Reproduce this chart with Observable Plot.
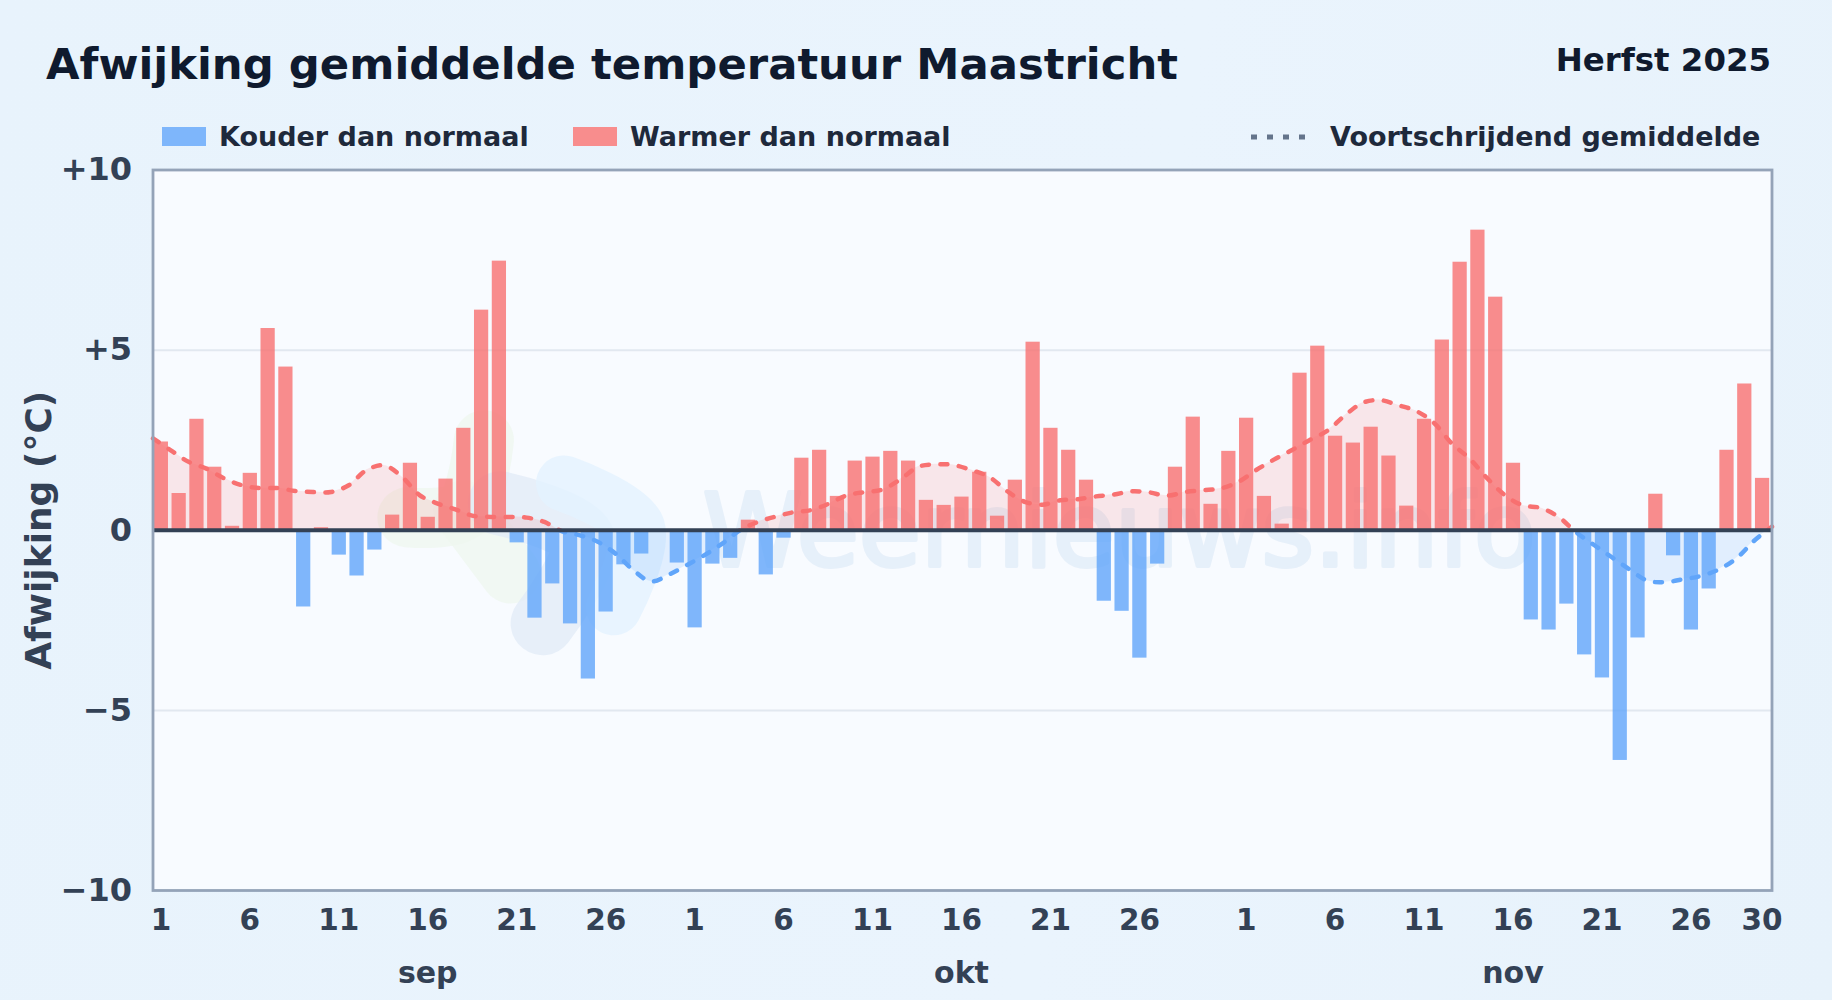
<!DOCTYPE html>
<html lang="nl">
<head>
<meta charset="utf-8">
<title>Afwijking gemiddelde temperatuur Maastricht</title>
<script src="https://cdn.jsdelivr.net/npm/d3@7"></script>
<script src="https://cdn.jsdelivr.net/npm/@observablehq/plot@0.6"></script>
<style>
  html, body { margin: 0; padding: 0; }
  body { width: 1832px; height: 1000px; overflow: hidden; background: linear-gradient(100deg, #e8f3fc 0%, #eaf4fd 60%, #e7f2fb 100%); font-family: "DejaVu Sans", sans-serif; font-weight: 700; }
  #header { position: relative; width: 1832px; height: 140px; }
  #header > * { position: absolute; white-space: nowrap; }
  #title { left: 46px; top: 39px; font-size: 43.35px; line-height: 50px; color: #0f1a2e; }
  #period { right: 61px; top: 42px; font-size: 32.4px; line-height: 36px; color: #0f1a2e; }
  .swatch { top: 127px; width: 44px; height: 19px; }
  .leg { top: 121px; font-size: 27px; line-height: 32px; color: #1e293b; }
  #plot { display: block; height: 860px; }
  #plot svg { display: block; background: transparent; }
</style>
</head>
<body>
<div id="header">
  <div id="title">Afwijking gemiddelde temperatuur Maastricht</div>
  <div id="period">Herfst 2025</div>
  <div class="swatch" style="left:162px;background:#7eb6fb"></div>
  <div class="leg" style="left:219px">Kouder dan normaal</div>
  <div class="swatch" style="left:573px;background:#f88d8d"></div>
  <div class="leg" style="left:630px">Warmer dan normaal</div>
  <svg style="left:1250px;top:129px" width="60" height="16"><line x1="1" x2="58" y1="8" y2="8" stroke="#64748b" stroke-width="5" stroke-dasharray="6 10"/></svg>
  <div class="leg" style="left:1330px">Voortschrijdend gemiddelde</div>
</div>
<div id="plot"></div>
<script>
// Deviation per day (°C)
const sepValues = [2.45, 1.02, 3.08, 1.75, 0.11, 1.58, 5.6, 4.53, -2.13, 0.07, -0.69, -1.27, -0.55, 0.42, 1.86, 0.36, 1.42, 2.83, 6.11, 7.47, -0.35, -2.44, -1.49, -2.6, -4.13, -2.27, -0.96, -0.66, 0, -0.91];
const oktValues = [-2.71, -0.94, -0.78, 0.28, -1.24, -0.22, 2.0, 2.22, 0.94, 1.92, 2.03, 2.19, 1.92, 0.83, 0.69, 0.92, 1.61, 0.39, 1.39, 5.22, 2.83, 2.22, 1.39, -1.97, -2.25, -3.55, -0.94, 1.75, 3.14, 0.72, 2.19];
const novValues = [3.11, 0.94, 0.17, 4.36, 5.11, 2.61, 2.42, 2.86, 2.06, 0.67, 3.08, 5.28, 7.44, 8.33, 6.47, 1.86, -2.49, -2.77, -2.05, -3.46, -4.10, -6.39, -2.99, 1.0, -0.71, -2.77, -1.63, 2.22, 4.06, 1.44];

// Moving average, read at each day boundary across the frame
const movingAverage = [2.55, 2.22, 1.9, 1.71, 1.44, 1.25, 1.17, 1.17, 1.09, 1.06, 1.06, 1.25, 1.67, 1.8, 1.48, 0.97, 0.74, 0.58, 0.4, 0.37, 0.37, 0.35, 0.23, -0.03, -0.14, -0.32, -0.65, -1.11, -1.42, -1.23, -0.97, -0.69, -0.37, 0.0, 0.23, 0.38, 0.5, 0.56, 0.74, 0.97, 1.06, 1.13, 1.41, 1.76, 1.83, 1.81, 1.67, 1.48, 1.09, 0.79, 0.71, 0.83, 0.86, 0.94, 0.99, 1.08, 1.05, 0.96, 1.06, 1.11, 1.16, 1.34, 1.67, 1.96, 2.22, 2.5, 2.76, 3.19, 3.54, 3.61, 3.47, 3.31, 2.98, 2.41, 1.99, 1.44, 0.97, 0.69, 0.62, 0.37, -0.06, -0.41, -0.75, -1.09, -1.40, -1.44, -1.36, -1.27, -1.09, -0.78, -0.29, 0.1];

const tickDays = [1, 6, 11, 16, 21, 26];
const monthNames = ["sep", "okt", "nov"];
const monthStarts = [0, 30, 61];
const yTicks = [-10, -5, 0, 5, 10];
const gridValues = [-5, 5];
const dayCount = 91;

// Watermark
const watermarkText = "Weernieuws.info";
const logoGreen = [[18.6, 2.5, "a"], [17.45, 0.55, "a"], [14.3, 0.36, "a"], [17.45, 0.55, "b"], [20.1, -1.2, "b"]];
const logoGrey = [[19.5, 0.75, "a"], [24.2, -0.28, "a"], [21.9, -2.58, "a"]];
const logoLight = [[23.1, 1.3, "a"], [27.2, 0.08, "a"], [25.9, -2.14, "a"]];

const values = [...sepValues, ...oktValues, ...novValues];
const bars = values.map((v, i) => ({start: i + 0.07, end: i + 0.87, v}));
const ma = movingAverage.map((v, k) => ({k, v}));
const axisTicks = [...monthStarts.flatMap(s => tickDays.map(d => s + d - 0.5)), dayCount - 0.5];
const dayLabel = t => {
  const i = Math.floor(t);
  const s = monthStarts.filter(m => m <= i).pop();
  return String(i - s + 1);
};
const monthTicks = monthStarts.map(s => s + 15.5);

const clipped = id => function (index, scales, vals, dims, ctx, next) {
  const g = next(index, scales, vals, dims, ctx);
  g.setAttribute("clip-path", `url(#${id})`);
  return g;
};
const blob = (pts, stroke, w, op) => Plot.line(pts, {x: d => d[0], y: d => d[1], z: d => d[2], stroke, strokeWidth: w, strokeOpacity: op, strokeLinecap: "round", strokeLinejoin: "round", curve: "catmull-rom"});

const axisColor = "#334155";
const chart = Plot.plot({
  width: 1832,
  height: 860,
  marginTop: 29.5,
  marginBottom: 110,
  marginLeft: 152.5,
  marginRight: 60.5,
  style: {background: "transparent", fontFamily: "'DejaVu Sans', sans-serif", overflow: "visible"},
  x: {type: "linear", domain: [0, dayCount]},
  y: {domain: [-10, 10]},
  marks: [
    Plot.frame({fill: "#f8fbff", stroke: "none"}),
    blob(logoGreen, "#eef7ee", 60, 0.7),
    blob(logoGrey, "#dfeaf7", 64, 0.7),
    blob(logoLight, "#e3f2ff", 56, 0.8),
    Plot.text([watermarkText], {x: 30.9, y: -1.0, text: d => d, textAnchor: "start", lineAnchor: "bottom", fontSize: 101, fontWeight: 400, fill: "#dbe9f7", stroke: "#dbe9f7", strokeWidth: 4, opacity: 0.6}),
    Plot.ruleY(gridValues, {stroke: "#e2e8f0", strokeWidth: 2}),
    Plot.areaY(ma, {x: "k", y1: 0, y2: "v", fill: "#f87171", fillOpacity: 0.15, curve: "catmull-rom", render: clipped("clip-warm")}),
    Plot.areaY(ma, {x: "k", y1: 0, y2: "v", fill: "#60a5fa", fillOpacity: 0.15, curve: "catmull-rom", render: clipped("clip-cold")}),
    Plot.line(ma, {x: "k", y: "v", stroke: "#f87171", strokeWidth: 4.5, strokeDasharray: "7 11.5", strokeLinecap: "round", curve: "catmull-rom", render: clipped("clip-warm")}),
    Plot.line(ma, {x: "k", y: "v", stroke: "#60a5fa", strokeWidth: 4.5, strokeDasharray: "7 11.5", strokeLinecap: "round", curve: "catmull-rom", render: clipped("clip-cold")}),
    Plot.rectY(bars, {x1: "start", x2: "end", y1: 0, y2: "v", fill: d => d.v >= 0 ? "#f87171" : "#60a5fa", fillOpacity: 0.8}),
    Plot.ruleY([0], {stroke: "#334155", strokeWidth: 4}),
    Plot.frame({stroke: "#94a3b8", strokeWidth: 2.8, fill: "none"}),
    Plot.axisY({ticks: yTicks, tickSize: 0, tickPadding: 21, label: null, tickFormat: d => d > 0 ? "+" + d : d < 0 ? "\u2212" + (-d) : "0", fontSize: 32, fontWeight: 700, fill: axisColor}),
    Plot.axisX({ticks: axisTicks, tickSize: 0, tickPadding: 18.5, dx: -1, label: null, tickFormat: dayLabel, fontSize: 29.5, fontWeight: 700, fill: axisColor}),
    Plot.axisX({ticks: monthTicks, tickSize: 0, tickPadding: 71, dx: -1, label: null, tickFormat: t => monthNames[monthTicks.indexOf(t)], fontSize: 30, fontWeight: 700, fill: axisColor}),
    Plot.text(["Afwijking (\u00b0C)"], {frameAnchor: "left", rotate: -90, dx: -114, textAnchor: "middle", text: d => d, fontSize: 36, fontWeight: 700, fill: axisColor})
  ]
});

const y0 = chart.scale("y").apply(0);
const defs = d3.select(chart).insert("defs", ":first-child");
defs.append("clipPath").attr("id", "clip-warm").append("rect").attr("x", 0).attr("y", 0).attr("width", 1832).attr("height", y0);
defs.append("clipPath").attr("id", "clip-cold").append("rect").attr("x", 0).attr("y", y0).attr("width", 1832).attr("height", 860 - y0);
document.getElementById("plot").appendChild(chart);
</script>
</body>
</html>
